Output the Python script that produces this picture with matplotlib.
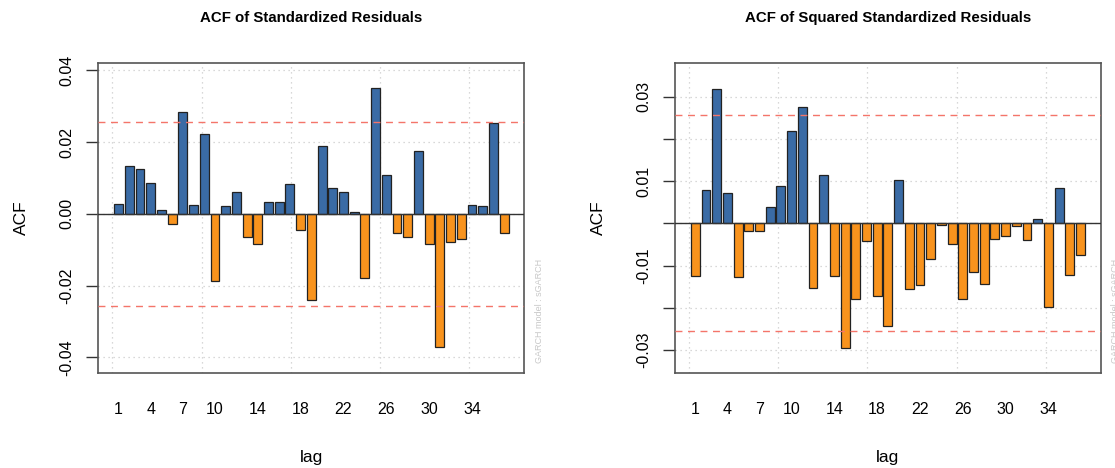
import numpy as np
from matplotlib import pyplot as plt

plt.rcParams['font.family'] = ['Liberation Sans', 'DejaVu Sans']

lags = np.arange(1, 38)
acf_std = [0.0027, 0.0133, 0.0124, 0.0085, 0.0011, -0.0028, 0.0283, 0.0024,
           0.0221, -0.0188, 0.0022, 0.0061, -0.0065, -0.0084, 0.0032, 0.0032,
           0.0084, -0.0045, -0.0240, 0.0188, 0.0073, 0.0061, 0.0004, -0.0178,
           0.0350, 0.0108, -0.0054, -0.0064, 0.0174, -0.0084, -0.0370, -0.0079,
           -0.0071, 0.0024, 0.0021, 0.0254, -0.0054]
acf_sq = [-0.0124, 0.0079, 0.0317, 0.0071, -0.0128, -0.0017, -0.0018, 0.0039,
          0.0088, 0.0219, 0.0275, -0.0153, 0.0115, -0.0124, -0.0296, -0.0178,
          -0.0041, -0.0172, -0.0244, 0.0102, -0.0155, -0.0145, -0.0085, -0.0005,
          -0.0049, -0.0178, -0.0114, -0.0144, -0.0038, -0.0030, -0.0007, -0.0039,
          0.0010, -0.0199, 0.0083, -0.0122, -0.0076]
conf = 0.0256
shown_lags = [1, 4, 7, 10, 14, 18, 22, 26, 30, 34]

titles = ["ACF of Standardized Residuals", "ACF of Squared Standardized Residuals"]
ylims = [(-0.0443, 0.0421), (-0.03536, 0.03804)]
yticks = [[-0.04, -0.02, 0.0, 0.02, 0.04],
          [-0.03, -0.02, -0.01, 0.0, 0.01, 0.02, 0.03]]
ylabels = [["-0.04", "-0.02", "0.00", "0.02", "0.04"],
           ["-0.03", "", "-0.01", "", "0.01", "", "0.03"]]

BLUE = "#3a6ba5"
ORANGE = "#f8931d"

fig = plt.figure(figsize=(11.15, 4.68), dpi=100)
axes = [fig.add_axes([0.0882, 0.2036, 0.3821, 0.6624]),
        fig.add_axes([0.6054, 0.2036, 0.3818, 0.6624])]

for k, (ax, vals) in enumerate(zip(axes, [acf_std, acf_sq])):
    vals = np.array(vals)
    # R barplot positions: width 1, space 0.2
    xpos = 0.7 + 1.2 * (lags - 1)
    cols = [BLUE if v > 0 else ORANGE for v in vals]
    ax.set_xlim(-1.57, 46.17)
    ax.set_ylim(*ylims[k])
    for gx in [0, 10, 20, 30, 40]:
        ax.axvline(gx, color="#cccccc", ls=(0, (1, 3)), lw=0.9, zorder=0)
    for gy in yticks[k]:
        ax.axhline(gy, color="#cccccc", ls=(0, (1, 3)), lw=0.9, zorder=0)
    ax.bar(xpos, vals, width=1.0, color=cols, edgecolor="#222222",
           linewidth=0.9, zorder=2)
    ax.axhline(conf, color="#f4756a", ls=(0, (5, 4)), lw=1.0, zorder=3)
    ax.axhline(-conf, color="#f4756a", ls=(0, (5, 4)), lw=1.0, zorder=3)
    ax.axhline(0, color="#333333", lw=1.0, zorder=3)

    ax.set_xticks([0.7 + 1.2 * (l - 1) for l in shown_lags])
    ax.set_xticklabels([str(l) for l in shown_lags])
    ax.tick_params(axis="x", length=0, pad=21, labelsize=11.5)
    ax.set_yticks(yticks[k])
    ax.set_yticklabels(ylabels[k], rotation=90, va="center")
    ax.tick_params(axis="y", length=9, width=1.0, color="#333333",
                   labelsize=11.5, pad=8)
    for s in ax.spines.values():
        s.set_color("#555555")
        s.set_linewidth(1.2)

    ax.set_ylabel("ACF", fontsize=12.5, labelpad=22)
    ax.set_xlabel("lag", fontsize=12.5, labelpad=24)
    ax.text(0.5, 1.145, titles[k], transform=ax.transAxes, ha="center",
            va="center", fontsize=10.8, fontweight="bold")
    ax.text(1.035, 0.03, "GARCH model : sGARCH", transform=ax.transAxes,
            rotation=90, ha="center", va="bottom", fontsize=6.5,
            color="#c8c8c8")

fig.savefig("out.png", dpi=100)
